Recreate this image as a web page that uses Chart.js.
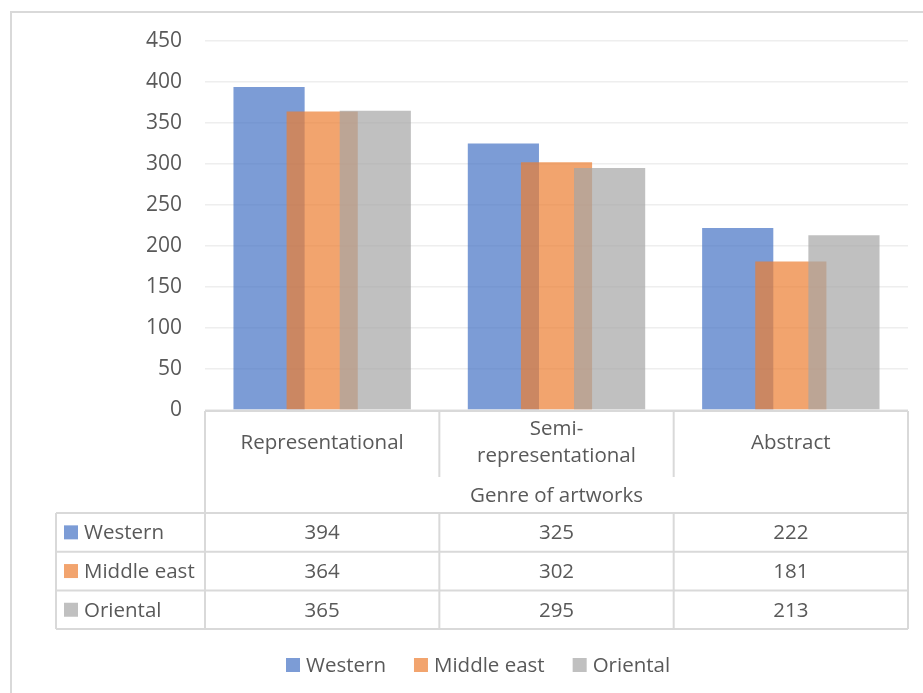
<!DOCTYPE html>
<html>
<head>
<meta charset="utf-8">
<script src="https://cdn.jsdelivr.net/npm/chart.js@4/dist/chart.umd.min.js"></script>
<style>
  html, body { margin: 0; padding: 0; background: #ffffff; }
  canvas { display: block; }
</style>
</head>
<body>
<canvas id="chart" width="923" height="693"></canvas>
<script>
// Categories (multi-line labels) and the axis title under them
const categories = [['Representational'], ['Semi-', 'representational'], ['Abstract']];
const axisTitle = 'Genre of artworks';

// Series
const seriesNames = ['Western', 'Middle east', 'Oriental'];
const western = [394, 325, 222];
const middleEast = [364, 302, 181];
const oriental = [365, 295, 213];

// Value axis ticks
const yMin = 0;
const yMax = 450;
const yStep = 50;

const seriesColors = ['rgba(68,114,196,0.7)', 'rgba(237,125,49,0.7)', 'rgba(165,165,165,0.7)'];
const seriesValues = [western, middleEast, oriental];

const FONT_FAMILY = '"Open Sans", "DejaVu Sans", sans-serif';
const FONT_SIZE = 20.5;
const TEXT_COLOR = '#595959';
const LINE_COLOR = '#D9D9D9';

// Draw the datasets in their listed order so later series sit on top of earlier ones
const layerInOrder = {
  id: 'layerInOrder',
  beforeDatasetsDraw(chart) {
    chart.data.datasets.forEach((d, i) => {
      const meta = chart.getDatasetMeta(i);
      if (!meta.hidden) meta.controller.draw();
    });
    return false;
  }
};

// Outer frame, data table under the plot and the legend row
const tableAndLegend = {
  id: 'tableAndLegend',
  afterDraw(chart) {
    const { ctx, chartArea: a, scales: { x } } = chart;
    const n = categories.length;
    const colW = (a.right - a.left) / n;
    const edges = [];
    for (let i = 0; i <= n; i++) edges.push(x.getPixelForValue(0) - colW / 2 + i * colW);

    const top = a.bottom + 1;
    const catBottom = top + 66;
    const titleBottom = top + 102;
    const rowH = 38.7;
    const tableLeft = 56;
    const tableBottom = titleBottom + rowH * seriesNames.length;

    ctx.save();
    ctx.strokeStyle = LINE_COLOR;
    ctx.lineWidth = 2;

    // frame around the whole chart
    ctx.strokeRect(11, 12, 1000, 1000);

    const line = (x1, y1, x2, y2) => {
      ctx.beginPath(); ctx.moveTo(x1, y1); ctx.lineTo(x2, y2); ctx.stroke();
    };
    // header block
    line(edges[0], top, edges[n], top);
    line(edges[0], top, edges[0], tableBottom);
    line(edges[n], top, edges[n], tableBottom);
    for (let i = 1; i < n; i++) line(edges[i], top, edges[i], catBottom);
    // series rows
    for (let r = 0; r <= seriesNames.length; r++) {
      const y = titleBottom + r * rowH;
      line(tableLeft, y, edges[n], y);
    }
    line(tableLeft, titleBottom, tableLeft, tableBottom);
    for (let i = 1; i < n; i++) line(edges[i], titleBottom, edges[i], tableBottom);

    ctx.fillStyle = TEXT_COLOR;
    ctx.font = FONT_SIZE + 'px ' + FONT_FAMILY;
    ctx.textBaseline = 'middle';
    ctx.textAlign = 'center';

    // category labels
    const lineH = 27;
    categories.forEach((lines, i) => {
      const cx = x.getPixelForValue(i);
      const cy = top + 32;
      lines.forEach((t, k) => {
        ctx.fillText(t, cx, cy + (k - (lines.length - 1) / 2) * lineH);
      });
    });
    // axis title
    ctx.fillText(axisTitle, (edges[0] + edges[n]) / 2, (catBottom + titleBottom) / 2 + 1);

    // values
    seriesValues.forEach((vals, r) => {
      const cy = titleBottom + (r + 0.5) * rowH;
      vals.forEach((v, i) => ctx.fillText(String(v), x.getPixelForValue(i), cy + 1));
    });

    // series keys in the first column
    ctx.textAlign = 'left';
    seriesNames.forEach((name, r) => {
      const cy = titleBottom + (r + 0.5) * rowH;
      ctx.fillStyle = seriesColors[r];
      ctx.fillRect(64, cy - 7, 14, 14);
      ctx.fillStyle = TEXT_COLOR;
      ctx.fillText(name, 84, cy + 1);
    });

    // legend row
    let lx = 286;
    const ly = 665;
    seriesNames.forEach((name, r) => {
      ctx.fillStyle = seriesColors[r];
      ctx.fillRect(lx, ly - 7, 14, 14);
      ctx.fillStyle = TEXT_COLOR;
      ctx.fillText(name, lx + 20, ly + 1);
      lx += 20 + ctx.measureText(name).width + 28;
    });
    ctx.restore();
  }
};

new Chart(document.getElementById('chart'), {
  type: 'bar',
  data: {
    labels: categories,
    datasets: seriesNames.map((name, i) => ({
      label: name,
      data: seriesValues[i],
      backgroundColor: seriesColors[i],
      borderWidth: 0,
      categoryPercentage: 0.68,
      barPercentage: 1.34
    }))
  },
  options: {
    responsive: false,
    animation: false,
    layout: { padding: { left: 0, right: 15, top: 41, bottom: 283 } },
    plugins: {
      legend: { display: false },
      tooltip: { enabled: false }
    },
    scales: {
      x: {
        display: false,
        offset: true
      },
      y: {
        min: yMin,
        max: yMax,
        afterFit(scale) { scale.width = 205; },
        ticks: {
          stepSize: yStep,
          padding: 23,
          color: TEXT_COLOR,
          font: { family: FONT_FAMILY, size: 21 }
        },
        grid: {
          color: '#EEEEEE',
          lineWidth: 1.5,
          drawTicks: false
        },
        border: { display: false }
      }
    }
  },
  plugins: [layerInOrder, tableAndLegend]
});
</script>
</body>
</html>
